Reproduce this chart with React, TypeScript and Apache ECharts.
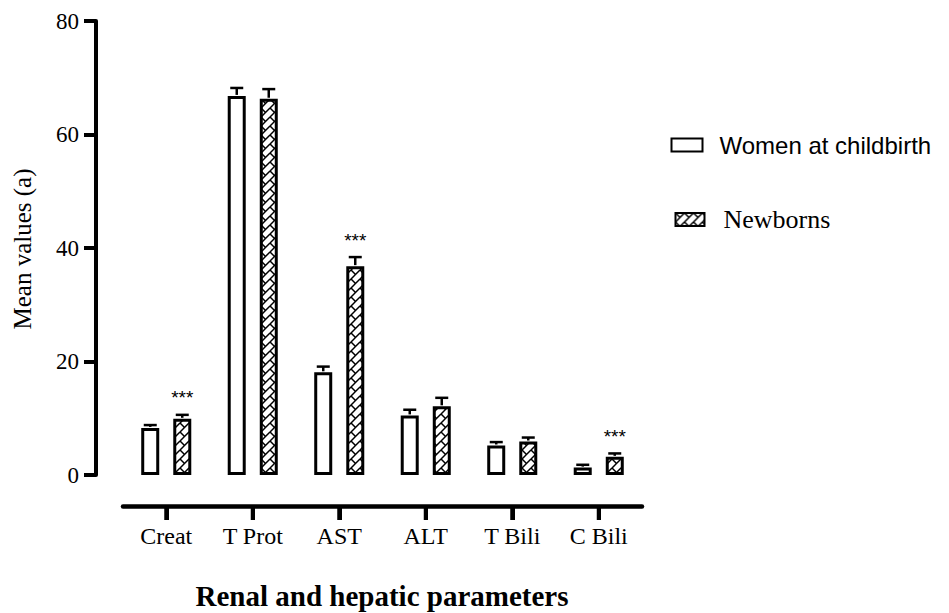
import React, { useEffect, useRef } from 'react';
import * as echarts from 'echarts';

const categories = ['Creat', 'T Prot', 'AST', 'ALT', 'T Bili', 'C Bili'];
const seriesNames = ['Women at childbirth', 'Newborns'];
const womenValues = [8.3, 66.8, 18.1, 10.5, 5.2, 1.3];
const womenErrors = [0.5, 1.4, 1.0, 1.0, 0.6, 0.5];
const newbornValues = [9.9, 66.3, 36.8, 12.1, 5.9, 3.2];
const newbornErrors = [0.7, 1.7, 1.6, 1.5, 0.7, 0.6];
const newbornSignificant = [true, false, true, false, false, true];
const yMin = 0;
const yMax = 80;
const yInterval = 20;
const xTitle = 'Renal and hepatic parameters';
const yTitle = 'Mean values (a)';

const SERIF = '"Liberation Serif", "Times New Roman", serif';
const SANS = '"Liberation Sans", Arial, sans-serif';

const X_AXIS_OFFSET = 31;
const X_TICK_LEN = 14;

function makeBrickPattern(): HTMLCanvasElement {
  const s = 9;
  const c = document.createElement('canvas');
  c.width = s;
  c.height = s;
  const ctx = c.getContext('2d')!;
  ctx.fillStyle = '#fff';
  ctx.fillRect(0, 0, s, s);
  ctx.strokeStyle = '#000';
  ctx.lineWidth = 1.5;
  for (const ox of [-s, 0, s]) {
    for (const oy of [-s, 0, s]) {
      ctx.save();
      ctx.translate(ox, oy);
      ctx.beginPath();
      ctx.moveTo(s, 0);
      ctx.lineTo(0, s);
      ctx.stroke();
      ctx.beginPath();
      ctx.moveTo(0, 0);
      ctx.lineTo(s / 2, s / 2);
      ctx.stroke();
      ctx.restore();
    }
  }
  return c;
}

const BAR_W = 18;
const BAR_OFFSET = 16;

function errorRender(offset: number) {
  return (params: any, api: any) => {
    const i = api.value(0);
    const v = api.value(1);
    const e = api.value(2);
    const sig = api.value(3);
    const base = api.coord([i, v]);
    const top = api.coord([i, v + e]);
    const x = base[0] + offset;
    const children: any[] = [
      {
        type: 'line',
        shape: { x1: x, y1: base[1] - 1, x2: x, y2: top[1] },
        style: { stroke: '#000', lineWidth: 2.5 },
      },
      {
        type: 'line',
        shape: { x1: x - 6.5, y1: top[1], x2: x + 6.5, y2: top[1] },
        style: { stroke: '#000', lineWidth: 2.5 },
      },
    ];
    if (sig) {
      children.push({
        type: 'text',
        style: {
          text: '***',
          x: x,
          y: top[1] - 17,
          align: 'center',
          verticalAlign: 'middle',
          font: '19px ' + SANS,
          fill: '#000',
        },
      });
    }
    return { type: 'group', children };
  };
}

export default function App() {
  const ref = useRef<HTMLDivElement>(null);
  useEffect(() => {
    if (!ref.current) return;
    const chart = echarts.init(ref.current, undefined, { renderer: 'svg' });
    const pattern = makeBrickPattern();
    const hatch: any = { image: pattern, repeat: 'repeat', imageWidth: 9, imageHeight: 9 };

    const womenErrData = womenValues.map((v, i) => [i, v, womenErrors[i], 0]);
    const newbornErrData = newbornValues.map((v, i) => [i, v, newbornErrors[i], newbornSignificant[i] ? 1 : 0]);

    const option: any = {
      animation: false,
      grid: { left: 123, top: 21, width: 519, height: 454, containLabel: false },
      xAxis: {
        type: 'category',
        data: categories,
        offset: X_AXIS_OFFSET,
        axisLine: { onZero: false, lineStyle: { color: '#000', width: 4.5 } },
        axisTick: { show: true, alignWithLabel: true, length: X_TICK_LEN, lineStyle: { color: '#000', width: 4 } },
        axisLabel: { color: '#000', fontFamily: SERIF, fontSize: 24, margin: 18 },
        splitLine: { show: false },
      },
      yAxis: {
        type: 'value',
        min: yMin,
        max: yMax,
        interval: yInterval,
        offset: 27,
        axisLine: { show: true, onZero: false, lineStyle: { color: '#000', width: 4 } },
        axisTick: { show: true, length: 12, lineStyle: { color: '#000', width: 4 } },
        axisLabel: { color: '#000', fontFamily: SERIF, fontSize: 23, margin: 17 },
        splitLine: { show: false },
      },
      legend: [
        {
          data: [seriesNames[0]],
          orient: 'vertical',
          left: 670.5,
          top: 133,
          padding: 0,
          icon: 'rect',
          itemWidth: 31,
          itemHeight: 13,
          textStyle: { color: '#000', fontFamily: SANS, fontSize: 24, lineHeight: 24, padding: [0, 0, 0, 12] },
        },
        {
          data: [seriesNames[1]],
          orient: 'vertical',
          left: 674.5,
          top: 206.5,
          padding: 0,
          icon: 'rect',
          itemWidth: 29,
          itemHeight: 13,
          textStyle: { color: '#000', fontFamily: SERIF, fontSize: 26, lineHeight: 26, padding: [0, 0, 0, 14] },
        },
      ],
      series: [
        {
          name: seriesNames[0],
          type: 'bar',
          data: womenValues,
          barWidth: BAR_W,
          barGap: '78%',
          itemStyle: { color: '#fff', borderColor: '#000', borderWidth: 3 },
        },
        {
          name: seriesNames[1],
          type: 'bar',
          data: newbornValues,
          barWidth: BAR_W,
          barGap: '78%',
          itemStyle: { color: hatch, borderColor: '#000', borderWidth: 3 },
        },
        {
          name: 'women-err',
          type: 'custom',
          data: womenErrData,
          encode: { x: 0, y: 1 },
          renderItem: errorRender(-BAR_OFFSET),
          clip: false,
          z: 3,
        },
        {
          name: 'newborn-err',
          type: 'custom',
          data: newbornErrData,
          encode: { x: 0, y: 1 },
          renderItem: errorRender(BAR_OFFSET),
          clip: false,
          z: 3,
        },
      ],
      graphic: [
        {
          type: 'text',
          x: 22,
          y: 249,
          rotation: Math.PI / 2,
          style: {
            text: yTitle,
            align: 'center',
            verticalAlign: 'middle',
            font: '25px ' + SERIF,
            fill: '#000',
          },
        },
        {
          type: 'text',
          x: 382,
          y: 596,
          style: {
            text: xTitle,
            align: 'center',
            verticalAlign: 'middle',
            font: 'bold 29px ' + SERIF,
            fill: '#000',
          },
        },
      ],
    };
    chart.setOption(option);

    // x-axis ticks placed through the library's own scale
    const tickRects = categories.map((c, i) => {
      const p = chart.convertToPixel({ xAxisIndex: 0, yAxisIndex: 0 }, [i, 0]) as number[];
      return {
        type: 'rect',
        z: 100,
        shape: { x: p[0] - 2, y: p[1] + X_AXIS_OFFSET, width: 4, height: X_TICK_LEN },
        style: { fill: '#000' },
      };
    });
    chart.setOption({ graphic: option.graphic.concat(tickRects) });

    return () => chart.dispose();
  }, []);
  return (
    <div
      ref={ref}
      style={{ position: 'fixed', left: 0, top: 0, width: 949, height: 613, background: '#fff' }}
    />
  );
}
